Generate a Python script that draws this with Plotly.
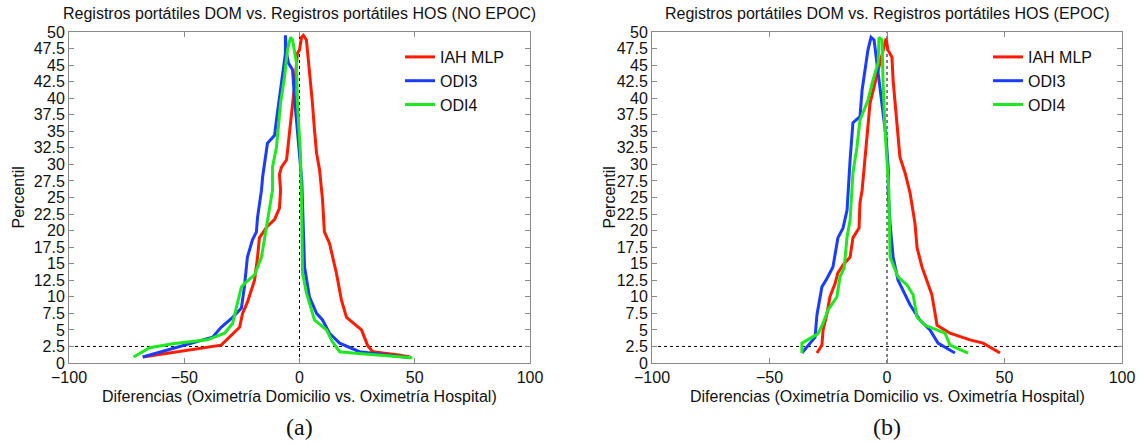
import plotly.graph_objects as go

# Folded cumulative distributions (mountain plots): difference vs percentile
# Panel (a): NO EPOC
a_iah_x = [-68, -34, -26, -24.7, -22.6, -19.5, -18.2, -17.4, -14.3, -10.8, -8.7, -8.2, -8.7, -7.8, -5.6, -4.3,
           -2.2, -0.9, 0, 0.9, 1.7, 3, 4.3, 5.6, 6.5, 7.4, 8.7, 10, 10.8, 13, 16, 18.2, 20.4, 24.7, 26.9,
           29.5, 31.7, 43, 48]
a_iah_y = [0.9, 2.7, 5.4, 7.5, 9.2, 12.5, 16, 18.9, 20.5, 21.7, 23.4, 26.1, 28.5, 29.6, 30.7, 34.7,
           41.7, 46.8, 47.3, 49.2, 49.5, 48.8, 44.3, 39.3, 35.2, 31.7, 29.2, 24.6, 19.8, 18.1, 13.6, 9.5, 6.9, 5.7, 5,
           2.7, 1.7, 1.2, 0.9]

a_odi3_x = [-68, -37.7, -34, -29, -25.2, -23.9, -22.6, -20.4, -18.7, -18.2, -16.5, -16, -13.9, -10.8, -10,
            -8.7, -7.4, -6.1, -6.1, -5.6, -4.8, -3, -2.2, -0.9, 0, 1, 1.5, 2.2, 4.3, 7.4, 10, 13, 17.4, 21.7,
            26, 48]
a_odi3_y = [0.9, 3.9, 5.4, 6.9, 8.3, 11.5, 16, 18.6, 19.8, 22, 26.1, 28.1, 33.2, 34.4, 36.7,
            40.2, 43.8, 46.8, 49.5, 46.8, 45.3, 44.3, 40.2, 35.2, 31.7, 27.5, 22, 14.5, 10, 7.5, 6.5, 4.5, 3, 2.3,
            1.7, 0.8]

a_odi4_x = [-72, -65, -55, -40, -32.5, -29, -27.3, -25.2, -23.9, -19.5, -16.5, -14.3, -13, -11.7, -11.7, -10,
            -8.2, -6.5, -5.2, -3.9, -3, -1.3, -0.9, 0.4, 0.9, 1.3, 3, 6.5, 11.7, 14.3, 17.4, 23, 49]
a_odi4_y = [0.9, 2.3, 2.9, 3.5, 4.5, 6, 8.5, 11.5, 12, 13.3, 16, 20.5, 23.5, 26.1, 29.6, 32.6,
            39.3, 43.2, 47.3, 49.2, 48.8, 45.3, 39.3, 31.7, 24.6, 13.6, 10.6, 6.5, 5, 3.2, 1.7, 1.5, 0.8]

# Panel (b): EPOC
b_iah_x = [-29.8, -27.7, -27.2, -25.5, -24.3, -22.1, -20.9, -18.7, -15.7, -14.5, -11.9, -11.5, -10.6,
           -9.4, -8.1, -7.2, -5.1, -3, -1.7, -0.4, 0.4, 2.1, 2.6, 3.8, 4.7, 5.5, 7.7, 9.8, 11.9, 12.8, 14.9,
           19.1, 21.3, 26.8, 35.3, 40.9, 48.1]
b_iah_y = [1.5, 2.7, 5, 7.5, 10, 12, 13.6, 14.8, 16, 18.9, 20.4, 24.2, 26.1,
           30.7, 35.2, 39.3, 42.3, 45.3, 47.3, 49, 47.3, 46.2, 42.7, 37.8, 34.1, 31.1, 28.7, 25.7, 21.1, 17.4, 14.5,
           10.3, 5.7, 4.5, 3.5, 3, 1.5]

b_odi3_x = [-36.2, -34, -30.6, -29.8, -27.7, -25.5, -23, -20.9, -18.7, -17, -16.6, -15.7, -14.5, -11.5,
            -10.6, -9.4, -8.1, -6.8, -5.5, -4.3, -3, -1.7, -0.4, 0.6, 0.5, 1.3, 2.6, 4.7, 9.8, 14, 18.3, 21.7,
            28.9]
b_odi3_y = [1.5, 2.4, 3.9, 7.3, 11.5, 12.8, 14.5, 18.9, 20.4, 23.1, 26.1, 30.7, 36.3, 37.2,
            41.2, 44.3, 47.3, 49.2, 48.8, 45.3, 41.7, 37.2, 34.1, 29, 26, 21.1, 16, 12.5, 8.8, 6.5, 5, 3,
            1.5]

b_odi4_x = [-36.2, -36.2, -29.4, -27.2, -25.1, -21.3, -20, -18.3, -17.9, -17, -15.7, -14.9, -14.5, -12.8,
            -11.5, -8.1, -6, -3.8, -3.4, -2.1, -1.7, -0.9, 0, 0.8, 1.3, 4.7, 8.5, 11.1, 12.8, 16.2, 24.7,
            26.8, 34.5]
b_odi4_y = [1.5, 3, 4.4, 6, 8, 10, 13, 14.3, 15.6, 19, 21.6, 26.1, 28.7, 32.6,
            36.7, 39.7, 42.7, 45.3, 49.2, 48.8, 42.7, 35.6, 29.6, 26, 16, 13, 11.8, 10.3, 6.9, 5.7, 4.5,
            2.7, 1.5]

series_names = ["IAH MLP", "ODI3", "ODI4"]
series_colors = ["#ff1a00", "#1a3cff", "#1ee81e"]

panel_titles = ["Registros portátiles DOM vs. Registros portátiles HOS (NO EPOC)",
                "Registros portátiles DOM vs. Registros portátiles HOS (EPOC)"]
panel_tags = ["(a)", "(b)"]
x_title = "Diferencias (Oximetría Domicilio vs. Oximetría Hospital)"
y_title = "Percentil"
x_ticks = [-100, -50, 0, 50, 100]
y_ticks = [i * 2.5 for i in range(21)]
y_ticklabels = [f"{v:g}" for v in y_ticks]

W, H = 1142, 445
dom_a = [69 / W, 530 / W]
dom_b = [652 / W, 1122 / W]
dom_y = [(H - 363) / H, (H - 32) / H]

FONT = "Liberation Sans, Arial, sans-serif"
FS = 16
TXT = "#111"

fig = go.Figure()

panels = [
    ([a_iah_x, a_odi3_x, a_odi4_x], [a_iah_y, a_odi3_y, a_odi4_y], "x", "y", "legend"),
    ([b_iah_x, b_odi3_x, b_odi4_x], [b_iah_y, b_odi3_y, b_odi4_y], "x2", "y2", "legend2"),
]
for xs, ys, xa, ya, lg in panels:
    for name, color, x, y in zip(series_names, series_colors, xs, ys):
        fig.add_trace(go.Scatter(x=x, y=y, mode="lines", name=name, xaxis=xa, yaxis=ya, legend=lg,
                                 line=dict(color=color, width=3)))

axis_common = dict(showgrid=False, zeroline=False, showline=True, linecolor="#8a8a8a", linewidth=1,
                   mirror="ticks", ticks="inside", ticklen=5, tickcolor="#8a8a8a",
                   tickfont=dict(family=FONT, size=FS, color=TXT), automargin=False, fixedrange=True)

legend_common = dict(xanchor="left", yanchor="top", bgcolor="rgba(0,0,0,0)",
                     font=dict(family=FONT, size=FS, color=TXT), tracegroupgap=0)

fig.update_layout(
    width=W, height=H, margin=dict(l=0, r=0, t=0, b=0),
    paper_bgcolor="white", plot_bgcolor="white", showlegend=True,
    xaxis=dict(domain=dom_a, range=[-100, 100], tickvals=x_ticks, anchor="y", **axis_common),
    yaxis=dict(domain=dom_y, range=[0, 50], tickvals=y_ticks, ticktext=y_ticklabels, anchor="x", **axis_common),
    xaxis2=dict(domain=dom_b, range=[-100, 100], tickvals=x_ticks, anchor="y2", **axis_common),
    yaxis2=dict(domain=dom_y, range=[0, 50], tickvals=y_ticks, ticktext=y_ticklabels, anchor="x2", **axis_common),
    legend=dict(x=400 / W, y=(H - 40) / H, **legend_common),
    legend2=dict(x=988 / W, y=(H - 40) / H, **legend_common),
)

# Dotted reference lines: 2.5th percentile and zero difference
for xr, yr in (("x", "y"), ("x2", "y2")):
    fig.add_shape(type="line", xref=xr, yref=yr, x0=-100, x1=100, y0=2.5, y1=2.5,
                  line=dict(color="black", width=1, dash="dot"), layer="below")
    fig.add_shape(type="line", xref=xr, yref=yr, x0=0, x1=0, y0=0, y1=50,
                  line=dict(color="black", width=1, dash="dot"), layer="below")

# Titles, axis titles and panel tags
centers = [(dom_a[0] + dom_a[1]) / 2, (dom_b[0] + dom_b[1]) / 2]
ylab_x = [18 / W, 609 / W]
for i in range(2):
    fig.add_annotation(text=panel_titles[i], xref="paper", yref="paper", x=centers[i], y=(H - 14) / H,
                       xanchor="center", yanchor="middle", showarrow=False,
                       font=dict(family=FONT, size=FS, color=TXT))
    fig.add_annotation(text=x_title, xref="paper", yref="paper", x=centers[i], y=(H - 396) / H,
                       xanchor="center", yanchor="middle", showarrow=False,
                       font=dict(family=FONT, size=FS, color=TXT))
    fig.add_annotation(text=y_title, xref="paper", yref="paper", x=ylab_x[i], y=(dom_y[0] + dom_y[1]) / 2,
                       xanchor="center", yanchor="middle", textangle=-90, showarrow=False,
                       font=dict(family=FONT, size=FS, color=TXT))
    fig.add_annotation(text=panel_tags[i], xref="paper", yref="paper", x=centers[i], y=(H - 427) / H,
                       xanchor="center", yanchor="middle", showarrow=False,
                       font=dict(family="Liberation Serif, Times New Roman, serif", size=24, color=TXT))

fig.write_html("out.html")
